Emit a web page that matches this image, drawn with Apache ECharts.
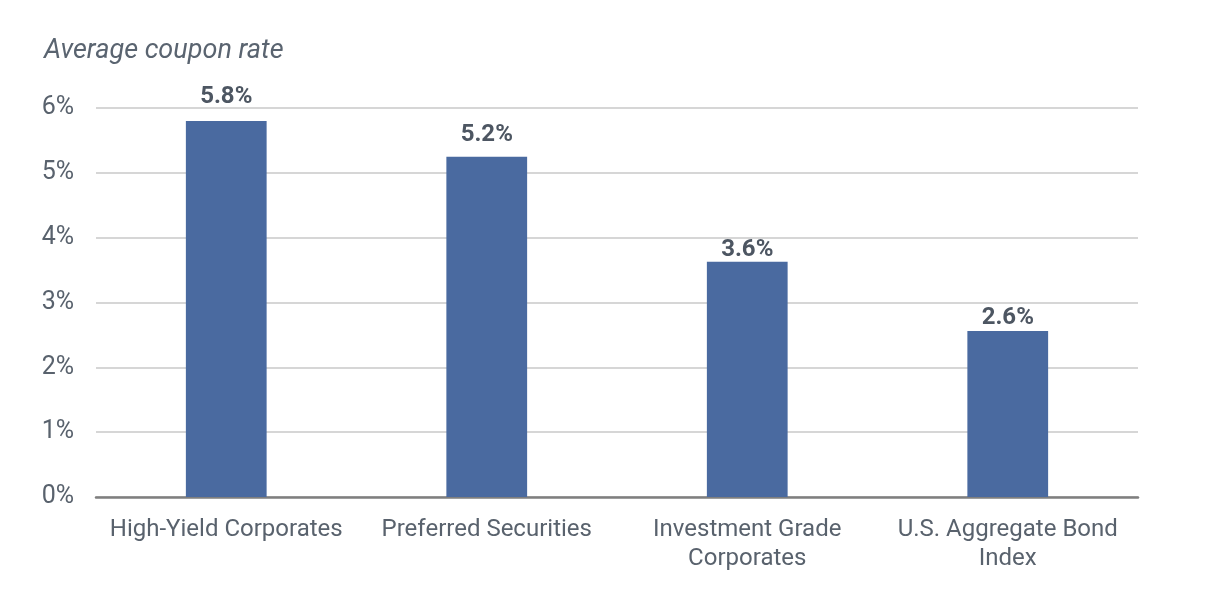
<!DOCTYPE html>
<html><head><meta charset="utf-8">
<script src="https://cdn.jsdelivr.net/npm/echarts@6/dist/echarts.min.js"></script>
<style>html,body{margin:0;padding:0;background:#fff}#c{width:1218px;height:614px}</style>
</head><body><div id="c"></div>
<script>
const categories = ['High-Yield Corporates', 'Preferred Securities', 'Investment Grade\nCorporates', 'U.S. Aggregate Bond\nIndex'];
const values = [5.8, 5.25, 3.63, 2.56];
const labels = ['5.8%', '5.2%', '3.6%', '2.6%'];
const yTicks = [0, 1, 2, 3, 4, 5, 6];

// label gap above each bar (style only)
const labelGap = [12, 10, 0, 1];

const chart = echarts.init(document.getElementById('c'));
const txt = '#59626d';
const ff = 'Roboto, sans-serif';
chart.setOption({
  animation: false,
  title: { text: 'Average coupon rate', left: 39, top: 33,
    textStyle: { fontFamily: ff, fontStyle: 'italic', fontWeight: 'normal', fontSize: 27, color: '#5a6470' } },
  grid: { left: 96, right: 80, top: 108, bottom: 117 },
  xAxis: { type: 'category', data: categories,
    axisLine: { lineStyle: { color: '#7f7f7f', width: 2.5 } },
    axisTick: { show: false },
    axisLabel: { color: txt, fontSize: 24, fontFamily: ff, margin: 18, lineHeight: 29, interval: 0 } },
  yAxis: { type: 'value', min: 0, max: 6, interval: 1,
    axisLine: { show: false }, axisTick: { show: false },
    splitLine: { lineStyle: { color: '#c8c8c8', width: 1.5 } },
    axisLabel: { color: txt, fontSize: 25, fontFamily: ff, margin: 22,
      formatter: v => yTicks.includes(v) ? v + '%' : '' } },
  series: [{ type: 'bar',
    data: values.map((v, i) => ({ value: v, label: { distance: labelGap[i] } })),
    barWidth: '31%',
    itemStyle: { color: '#4a6aa0' },
    label: { show: true, position: 'top', color: '#4d5662', fontWeight: 'bold', fontSize: 24,
      fontFamily: ff,
      formatter: p => labels[p.dataIndex] } }]
});
</script></body></html>
